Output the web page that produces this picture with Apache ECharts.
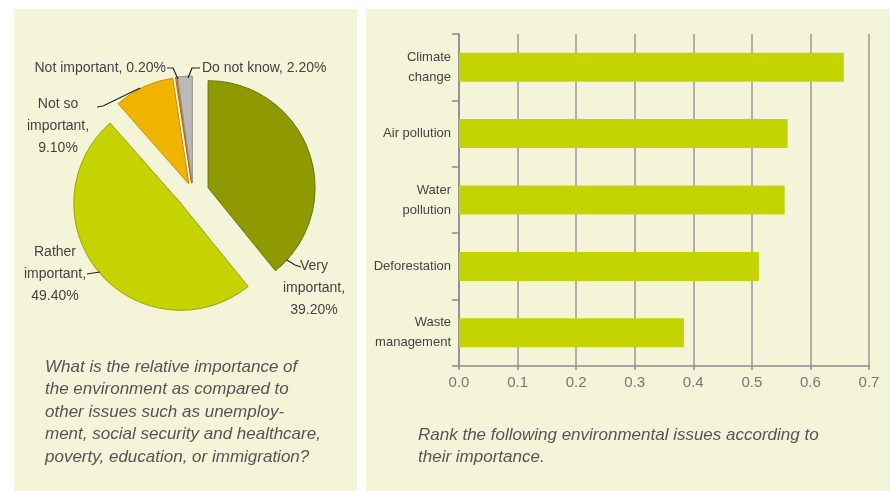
<!DOCTYPE html>
<html><head><meta charset="utf-8">
<script src="https://cdn.jsdelivr.net/npm/echarts@6/dist/echarts.min.js"></script>
<style>html,body{margin:0;padding:0;background:#fff}#c{width:890px;height:492px}</style>
</head><body><div id="c"></div>
<script>
// Pie data
const pieNames = ['Very important', 'Rather important', 'Not so important', 'Not important', 'Do not know'];
const pieValues = [39.2, 49.4, 9.1, 0.2, 2.2];
const pieLabels = ['Very\nimportant,\n39.20%', 'Rather\nimportant,\n49.40%', 'Not so\nimportant,\n9.10%', 'Not important, 0.20%', 'Do not know, 2.20%'];
// Bar data
const barCategories = ['Climate\nchange', 'Air pollution', 'Water\npollution', 'Deforestation', 'Waste\nmanagement'];
const barValues = [0.657, 0.561, 0.556, 0.512, 0.384];
const xTicks = ['0.0','0.1','0.2','0.3','0.4','0.5','0.6','0.7'];

const pieColors = ['#8e9a00', '#c5d300', '#f0b400', '#e88a00', '#b9b9b9'];
const pieBorders = ['#6a7400', '#9aa600', '#c88f00', '#b86a00', '#8e8e8e'];
const bigSlice = [true, true, false, false, false];

// label placement (text anchor and guide line)
const labelPos = [
  {x: 314, y: 288, align: 'center', pts: [[287, 260], [295, 265], [301, 267]]},
  {x: 55, y: 274, align: 'center', pts: [[100, 272], [93, 273], [87, 274]]},
  {x: 58, y: 126, align: 'center', pts: [[140, 88], [103, 106], [97, 107]]},
  {x: 166, y: 68, align: 'right', pts: [[178, 79], [173, 68], [167, 68]]},
  {x: 202, y: 68, align: 'left', pts: [[188, 78], [192, 68], [200, 68]]}
];

const labelFont = "14px 'Liberation Sans', sans-serif";
const pieLabelGraphics = [];
pieLabels.forEach((t, i) => {
  const L = labelPos[i];
  pieLabelGraphics.push({type: 'text', z: 50, x: L.x, y: L.y,
    style: {text: t, font: labelFont, fill: '#444', align: L.align, verticalAlign: 'middle', lineHeight: 22}});
  pieLabelGraphics.push({type: 'polyline', z: 50, shape: {points: L.pts},
    style: {stroke: '#222', lineWidth: 1.2, fill: null}});
});

function pieSeries(showBig, offset) {
  return {
    type: 'pie', center: [193, 193], radius: 107, startAngle: 90, clockwise: true,
    selectedMode: 'multiple', selectedOffset: offset, silent: true,
    data: pieNames.map((n, i) => {
      const vis = bigSlice[i] === showBig;
      const st = vis ? {color: pieColors[i], borderColor: pieBorders[i], borderWidth: 1}
                     : {color: 'rgba(0,0,0,0)', borderWidth: 0};
      return {name: n, value: pieValues[i], selected: vis, itemStyle: st, select: {itemStyle: st}};
    }),
    label: {show: false},
    labelLine: {show: false}
  };
}

const chart = echarts.init(document.getElementById('c'), null, {renderer: 'canvas'});
chart.setOption({
  animation: false,
  backgroundColor: '#ffffff',
  graphic: [
    {type: 'rect', z: -10, shape: {x: 14, y: 9, width: 343, height: 482}, style: {fill: '#f4f4d9'}},
    {type: 'rect', z: -10, shape: {x: 366, y: 9, width: 524, height: 482}, style: {fill: '#f4f4d9'}},
    {type: 'text', left: 45, top: 356, style: {
      text: 'What is the relative importance of\nthe environment as compared to\nother issues such as unemploy-\nment, social security and healthcare,\npoverty, education, or immigration?',
      font: "italic 17px 'Liberation Sans', sans-serif", fill: '#555', lineHeight: 22.5}},
    {type: 'text', left: 418, top: 424, style: {
      text: 'Rank the following environmental issues according to\ntheir importance.',
      font: "italic 17px 'Liberation Sans', sans-serif", fill: '#555', lineHeight: 22.5}}
  ].concat(pieLabelGraphics),
  grid: {left: 459, right: 21, top: 34, bottom: 126, containLabel: false},
  xAxis: {
    type: 'value', min: 0, max: 0.7, interval: 0.1,
    axisLine: {show: true, lineStyle: {color: '#8a8a8a', width: 1.5}},
    axisTick: {show: true, length: 4, lineStyle: {color: '#8a8a8a', width: 1.5}},
    splitLine: {show: true, lineStyle: {color: '#9a9a9a', width: 1.5}},
    axisLabel: {formatter: (v) => xTicks[Math.round(v * 10)], color: '#777', fontSize: 15, margin: 9,
      fontFamily: "'Liberation Sans', sans-serif"}
  },
  yAxis: {
    type: 'category', data: barCategories, inverse: true,
    axisLine: {show: true, lineStyle: {color: '#8a8a8a', width: 1.5}},
    axisTick: {show: true, length: 7, lineStyle: {color: '#8a8a8a', width: 1.5}},
    axisLabel: {color: '#444', fontSize: 13, fontFamily: "'Liberation Sans', sans-serif", margin: 8, lineHeight: 20}
  },
  series: [
    {
      type: 'bar', data: barValues, barWidth: 29,
      itemStyle: {color: '#c4d400'}, silent: true
    },
    pieSeries(true, 16),
    pieSeries(false, 10)
  ]
});
</script></body></html>
